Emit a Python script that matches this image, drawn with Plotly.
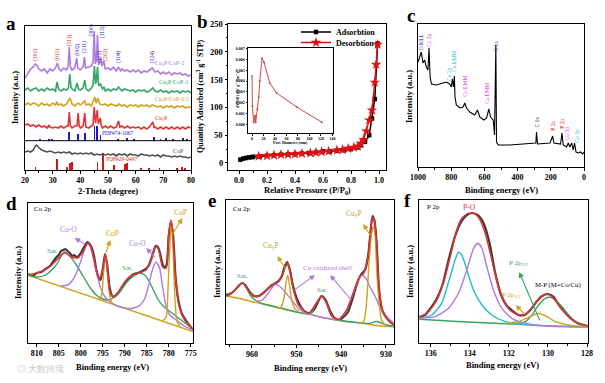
import plotly.graph_objects as go

W, H = 605, 383
SERIF = "Liberation Serif"

# ---------------- Panel a: XRD ----------------
xrd_cp2_x = [20,21,22,23,23.8,24.5,25,26,27,28,29,30,31,31.7,32.3,33,34,35,35.6,36.0,36.4,37,38,38.7,39.1,40,41,41.5,41.9,43,44,44.6,45.0,45.4,45.8,46.2,46.6,47.3,47.8,48.5,49,50,51,52,53,53.8,54.5,55,56,57,58,59,60,61,62,63,64,65,66,67,68,69,70,71,72,73,74,75,76,77,78,79,80]
xrd_cp2_y = [92,96,101,103,106,104,101,99,101,97,101,99,102,107,101,99,102,100,104,123,103,100,102,112,102,100,103,113,102,103,104,108,139,106,110,135,105,112,104,109,101,102,100,103,99,103,99,101,99,100,98,100,98,100,97,99,98,100,102,98,99,96,98,96,98,95,97,96,97,95,96,94,95]
xrd_cp1_x = [20,21,22,23,24,25,26,27,28,29,30,31,31.6,32.1,33,34,35,35.7,36.2,36.6,37,38,38.8,39.3,40,41,41.6,42.1,43,44,44.6,45.1,45.5,45.8,46.2,46.6,47.3,48,48.6,49,50,51,52,53,53.8,54.5,55,56,57,58,59,60,61,62,63,64,65,66.2,67,68,69,70,71,72,73,74,75,76,77,78,79,80]
xrd_cp1_y = [80,82,79,81,82,79,81,79,82,80,81,79,88,81,79,81,80,82,96,83,81,79,87,81,80,82,90,81,79,82,85,104,86,90,103,84,86,81,83,79,81,79,81,80,83,80,79,81,80,79,80,78,80,79,80,78,79,82,79,78,80,78,79,77,79,78,79,77,79,78,79,77,79]
xrd_cp05_x = [20,21,22,23,24,25,26,27,28,29,30,31,31.6,32,33,34,35,36.3,37,38,39.2,40,41.6,42,43,44,45.2,45.7,46.3,47,48,49,50,51,52,53,54,55,56,57,58,59,60,61,62,63,64,65,66,67,68,69,70,71,72,73,74,75,76,77,78,79,80]
xrd_cp05_y = [65,67,65,67,66,64,67,65,66,64,67,65,68,65,66,64,66,72,66,64,67,65,69,65,66,64,73,67,72,66,65,66,64,66,65,64,66,64,65,63,65,64,65,63,65,64,65,63,65,64,63,64,62,64,63,64,62,64,63,64,62,63,63]
xrd_cu3p_x = [20,21,22,23,24,25,26,27,28,28.7,29,30,31,32,33,34,35,35.6,36.0,36.4,37,38,38.8,39.2,39.6,40,41,41.6,42,43,44,44.6,45.0,45.5,46.1,46.5,47.2,47.6,48,49,50,51,52,53,53.8,54.3,55,56,57,58,59,60,61,62,63,64,65,66.2,66.7,67,68,69,70,71,72,73,74,75,76,77,78,79,80]
xrd_cu3p_y = [45,46,44,45,43,45,43,44,42,45,43,42,43,42,44,42,44,44,58,44,42,44,44,57,44,42,44,57,43,42,44,45,63,47,60,46,52,44,42,44,42,44,42,43,49,43,44,42,44,42,43,42,43,41,43,41,43,48,42,43,41,43,41,43,41,43,41,43,41,43,41,43,42]
xrd_cop_x = [20,21,22,23,23.7,24.2,24.8,25.5,26,27,28,29,30,31,32,33,34,35,36,37,38,39,40,41,42,43,44,45,46,47,48,49,50,51,52,53,54,55,56,57,58,59,60,61,62,63,64,65,66,67,68,69,70,71,72,73,74,75,76,77,78,79,80]
xrd_cop_y = [18,19,18,20,24,25,23,21,20,19,18,19,18,17,18,17,18,17,18,16,17,16,17,16,17,16,17,15,16,15,16,15,16,15,16,14,16,15,16,14,16,15,15,14,16,15,15,14,15,14,15,13,15,14,14,13,14,13,14,13,13,12,13]
stick_cop_pos = [23.8,31.6,35.3,36.3,36.9,46.2,48.1,52.3,56.0,56.8,62.0,64.7,68.6,75.0,76.6,77.8]
stick_cop_h = [3,11,3,7,8,8,17,5,6,7,2,2,2,2,3,2]
stick_cu3p_pos = [25.4,28.7,29.9,36.0,39.2,41.6,45.1,46.1,47.3,53.5,57.0,59.3,66.5,69.0,71.0,73.5,77.0,78.6]
stick_cu3p_h = [1.5,2,1.5,9,7,8,15,15,6,2,3,1.5,4,2,2.5,1.5,2.5,2]
stick_cu3p_base = 29.3
miller_text = ["(101)","(011)","(111)","(002)","(211)","(300)","(113)","(112)","(202)","(104)","(124)"]
miller_x = [23.6,31.5,36.0,38.7,41.3,43.7,47.9,46.7,48.9,53.5,66.0]
miller_y = [115,115,130,120,123,139,138,113,115,113,113]
miller_col = ["r","r","r","b","b","b","b","b","r","b","b"]

# ---------------- Panel b: BET ----------------
ads_x = [0.01,0.03,0.05,0.07,0.09,0.1,0.15,0.2,0.25,0.3,0.35,0.4,0.45,0.5,0.55,0.6,0.65,0.7,0.75,0.8,0.85,0.87,0.9,0.93,0.95,0.97,0.99]
ads_y = [6,8,9,10,10.5,11,12,13,14,15,15.5,16,17,18,19,21,21,22,23,25,28,32,38,50,80,115,215]
des_x = [0.99,0.98,0.97,0.95,0.93,0.91,0.89,0.87,0.85,0.82,0.78,0.74,0.7,0.64,0.59,0.55,0.51,0.45,0.4,0.35,0.3,0.25,0.2,0.14]
des_y = [213,177,145,95,77,57,42,35,30,28,26,24,23,21,20,19,18,17,16,15.5,15,14,13,12]
b_yticks = [0, 50, 100, 150, 200, 250]
pore_x = [0,0.7,3,5.3,6.4,9.4,11.7,13.5,17.5,21,31,42.7,77.7,121.4]
pore_y = [0.00445,0.0017,0.0002,0.0008,0.0002,0.0014,0.0025,0.004,0.0061,0.0057,0.0038,0.0029,0.0016,0.0002]

# ---------------- Panel c: XPS survey ----------------
surv_x = [1000,996,980,970,960,950,940,933.6,927,919,889,849,829,809,799,793,786,781,777,769,748,728,718,708,688,658,642,628,604,587,573,563,547,539,531,527,517,447,346,290,286,280,205,189,181,141,133,125,105,95,85,74,65,57,48,34,20,8,0]
surv_y = [105,107,115,104,107,100,97,119,90,83,82,84,85,83,80,88,80,91,70,62,59,60,64,59,55,52,57,50,47,49,58,50,47,32,122,25,22,22,23,24,35,23,24,31,24,23,34,22,20,24,20,24,17,24,15,14,15,13,15]
surv_lab = ["O KLL","Cu 2p","Co 2p","Co LMM","Cu LMM","Cu LMM","O 1s","C 1s","P 2s","P 2p","Cu 3p","Co 3p"]
surv_lab_x = [980,933,813,783,718,584,531,286,189,134,105,44]
surv_lab_y = [125,127,93,105,81,73,120,44,41,43,33,31]
surv_lab_c = ["#2b2bb8","#e030e0","#22b8c8","#22b8c8","#e030e0","#e030e0","#2b2bb8","#111111","#e02828","#e02828","#e030e0","#22b8c8"]

# ---------------- Panel d: Co 2p ----------------
d_bg_x = [812.2, 774.5]
d_bg_y = [68, 11.4]
d_sat_x = [812.2,810,808,806,805,804.5,803.7,802.5,801,799.5,798,796.5,795,794,792.7,791.5,790.5,789.5,788,786.7,785.5,784.5,783.5,782.5,781.5,780.5,779,777.5,776,774.5]
d_sat_y = [68,66,68,76,82,87,90,87,78,67,56,48,44,43,45,49,55,61,67,70,68,62,53,44,38,34,29,24,19,14]
d_coo_x = [804.5,803,802,801,800,799.2,798.4,797.6,797,796.3,795.5,794.5,793.5,792,790,788.2,786.5,785.5,784.8,784.2,783.6,782.9,782.1,781.4,780.6,779.8,778.3,776.5,774.5]
d_coo_y = [57,58,62,70,82,93,99.7,93,82,68,55,46,42,37.5,35,34.7,38,44,54,65,75,81,75,56,36,28,23,17,13]
d_cop1_x = [796,795.6,795.2,794.9,794.6,794.4,794.1,793.8,793.4,793,792.5]
d_cop1_y = [44,44,50,65,82,88,80,62,47,41,38.5]
d_cop2_x = [781.5,780.6,780.2,779.8,779.5,779.1,778.7,778.3,778,777.5]
d_cop2_y = [22,26,53,93,121,100,53,26,20,17]
d_tot_x = [812.2,810,807.1,804.8,803.7,802.2,800.7,799.5,798.4,797.7,796.5,795.8,795,794.4,793.9,793.3,792.3,791.2,789.7,788.2,786.7,785.2,784,783,782.3,781.4,780.6,780,779.5,779.1,778.5,777.6,776.4,774.5]
d_tot_y = [68,70,76,86,91,86,85,91,100,96,73,64,73,89,70,50,46,53,63,68,70,73,83,97,93,76,75,110,123,110,66,36,23,14]
d_raw_x = [812,811,810,809,808,807,806.5,806,805.5,805,804.5,804,803.5,803,802.5,802,801.5,801,800.5,800,799.5,799,798.5,798,797.5,797,796.5,796,795.5,795,794.5,794,793.5,793,792.5,792,791,790,789,788,787,786,785,784.5,784,783.5,783,782.5,782,781.5,781,780.5,780,779.5,779,778.5,778,777.5,777,776,775,774.5]
d_raw_y = [69,67,70,71,74,77,80,83,86,88,92,93,94,92,90,87,88,86,87,90,94,98,101,99,95,87,74,66,63,74,89,78,57,48,46,48,53,60,65,69,70,72,75,78,84,91,97,96,90,80,75,78,108,121,107,68,47,36,29,22,16,13]

# ---------------- Panel e: Cu 2p ----------------
e_bg_x = [965.8,963,960,956.3,953.3,950.3,947.3,944.4,941.4,938.4,936.2,933.9,931,928.2]
e_bg_y = [48,45.7,42.3,39,35.7,32.3,30,26.7,24,22.3,21.3,19.7,18,17.3]
e_sat_x = [965.8,965.2,964.1,963.1,962.2,961.3,960.4,959.3,957.8,955,952,949,947.5,946.6,945.6,944.4,943.3,942.5,941.4,939,936,933.9,932.1,930.2,928.2]
e_sat_y = [48,48.5,52,57.3,60.7,57.3,49,44,40.5,37.2,34,31,30,31.5,41,47.3,41,31,25,22.8,21.3,20.5,22.5,19.5,17.5]
e_shell_x = [959,957.8,956.3,954.8,953.7,952.6,951.1,949.6,948.1,946,943,940.6,938.8,937.3,936.2,935.4,934.5,933.6,932.4,931,929.5,928.2]
e_shell_y = [43,43.5,51,59.7,57.3,52.3,44,35.7,31.3,28.5,25.5,24.5,34,50.7,64,69,65.7,57.3,47.3,34,25.7,20.7]
e_cu3p1_x = [954.5,953.7,952.9,952.4,952,951.6,951.1,950.3,949.5]
e_cu3p1_y = [36.5,36,44,60.7,69,59,44,34.7,33]
e_cu3p2_x = [936,935,934.3,933.8,933.2,932.8,932.4,932.1,931.6,931,930.2]
e_cu3p2_y = [21.2,22.3,44,80.7,110.7,117.3,107.3,77.3,44,24,19]
e_tot_x = [965.8,964.1,962.2,960.4,958.9,957.4,956.3,954.9,953.7,952.6,952,951.4,950.7,949.6,947.3,945.6,944.4,943.3,942.2,940.6,938.8,937.1,936,935,934.1,933.4,933,932.6,932.1,931.6,930.6,929.5,928.2]
e_tot_y = [48,52.3,61.3,50.7,47.3,50.7,55.7,60.7,64.7,75.7,81.3,70.7,54,39,30.7,40.7,48,40.7,28,24.7,34,54,66.7,70.7,84,114,126.7,124,100.7,57.3,32.3,24,19]
e_raw_x = [965.8,965,964,963,962.2,961.5,960.5,959.5,958.5,957.5,956.5,955.5,954.7,954,953.3,952.7,952.1,951.5,950.8,950,949,948,947,946,945,944.4,943.5,942.5,941.5,940.5,939.5,938.5,937.5,936.5,935.5,934.7,934,933.4,933,932.6,932.1,931.6,931,930,929,928.2]
e_raw_y = [49,50,53,58,61,59,52,48,48,51,55,59,61,63,68,77,82,74,58,46,37,32,31,35,44,48,44,33,26,24,27,32,45,60,70,74,88,115,128,124,102,58,35,27,22,19]

# ---------------- Panel f: P 2p ----------------
f_mp_x = [136.58,134.4,132.7,131.68,131.16,130.82,130.48,130.14,129.88,129.62,129.28,128.94,128.51,127.95]
f_mp_y = [23.7,21.3,19.7,19,21.3,28,38,44.7,45.7,43,36.3,28,20.3,16.3]
f_cy_x = [136.58,135.95,135.44,135.01,134.75,134.58,134.41,134.15,133.81,133.38,132.87,132.19,130.99,127.95]
f_cy_y = [24.7,28,39.7,66.3,83,90.7,88,73,53,38,28,21.3,18,16.3]
f_pu_x = [136.58,135.78,135.09,134.58,134.15,133.81,133.59,133.38,133.13,132.79,132.36,131.85,131.16,130.14,127.95]
f_pu_y = [24.7,26.3,34.7,49.7,73,94.7,99.7,94.7,76.3,53,34.7,24.7,19.7,17,15.7]
f_go_x = [132.19,131.5,130.99,130.48,130.05,129.62,128.94,127.95]
f_go_y = [19.7,21.3,25.7,29.7,26.3,21.3,18,15.7]
f_tot_x = [136.58,136.12,135.69,135.26,134.92,134.67,134.41,134.07,133.73,133.47,133.21,132.87,132.53,132.19,131.85,131.42,131.08,130.65,130.31,130.05,129.79,129.45,129.11,128.6,127.95]
f_tot_y = [25.3,31.3,43,66.3,93,113,124.7,129.7,129,123,109.7,83,56.3,39.7,31.3,28,29.7,39.7,47,48.7,46.3,38,29.7,21.3,17]
f_raw_x = [136.58,136.3,136,135.7,135.4,135.1,134.8,134.5,134.2,133.9,133.6,133.3,133,132.7,132.4,132.1,131.8,131.5,131.2,130.9,130.6,130.3,130,129.7,129.4,129.1,128.8,128.5,128.2,127.95]
f_raw_y = [26,28,35,44,58,82,104,119,127,130,128,120,101,70,48,37,32,28,28,33,41,47,49,46,37,30,24,20,18,17]

# ---------------- colours ----------------
C_PUR = "#b07ade"
C_GRN = "#35a465"
C_GLD = "#d1a21c"
C_RED = "#e23434"
C_GRY = "#505050"
C_BLU = "#1a1ac8"
C_CYN = "#22bfc8"
C_RAW = "#3a3a3a"

fig = go.Figure()

def line(x, y, ax, color, width=1.4, shape="spline", **kw):
    fig.add_trace(go.Scatter(x=x, y=y, xaxis="x" + ax, yaxis="y" + ax, mode="lines",
                             line=dict(color=color, width=width, shape=shape, smoothing=0.6),
                             showlegend=False, hoverinfo="skip", **kw))

# panel a
for xs, ys, c in [(xrd_cp2_x, xrd_cp2_y, C_PUR), (xrd_cp1_x, xrd_cp1_y, C_GRN),
                  (xrd_cp05_x, xrd_cp05_y, C_GLD), (xrd_cu3p_x, xrd_cu3p_y, C_RED),
                  (xrd_cop_x, xrd_cop_y, C_GRY)]:
    line(xs, ys, "", c, width=1.6, shape="linear")
fig.add_trace(go.Bar(x=stick_cu3p_pos, y=stick_cu3p_h, base=stick_cu3p_base, width=0.3,
                     marker=dict(color=C_BLU, line=dict(width=0)), xaxis="x", yaxis="y",
                     showlegend=False, hoverinfo="skip"))
fig.add_trace(go.Bar(x=stick_cop_pos, y=stick_cop_h, base=0, width=0.3,
                     marker=dict(color="#d01818", line=dict(width=0)), xaxis="x", yaxis="y",
                     showlegend=False, hoverinfo="skip"))

# panel b
fig.add_trace(go.Scatter(x=ads_x, y=ads_y, xaxis="x2", yaxis="y2", mode="lines+markers",
                         name="Adsorbtion", legend="legend",
                         line=dict(color="black", width=1.5),
                         marker=dict(symbol="square", size=4.5, color="black")))
fig.add_trace(go.Scatter(x=des_x, y=des_y, xaxis="x2", yaxis="y2", mode="lines+markers",
                         name="Desorbtion", legend="legend2",
                         line=dict(color="#e01010", width=1.5),
                         marker=dict(symbol="star", size=8, color="#e01010")))
fig.add_trace(go.Scatter(x=pore_x, y=pore_y, xaxis="x7", yaxis="y7", mode="lines+markers",
                         line=dict(color="#d04848", width=1), marker=dict(size=2, color="#d04848"),
                         showlegend=False, hoverinfo="skip"))

# panel c
line(surv_x, surv_y, "3", "black", width=1.1, shape="linear")

# panel d
line(d_raw_x, d_raw_y, "4", C_RAW, width=2.2)
line(d_bg_x, d_bg_y, "4", C_GLD, width=1.4, shape="linear")
line(d_sat_x, d_sat_y, "4", C_GRN)
line(d_coo_x, d_coo_y, "4", C_PUR)
line(d_cop1_x, d_cop1_y, "4", C_GLD)
line(d_cop2_x, d_cop2_y, "4", C_GLD)
line(d_tot_x, d_tot_y, "4", C_RED, width=1.5)

# panel e
line(e_raw_x, e_raw_y, "5", C_RAW, width=2.2)
line(e_bg_x, e_bg_y, "5", C_GLD)
line(e_sat_x, e_sat_y, "5", C_GRN)
line(e_shell_x, e_shell_y, "5", C_PUR)
line(e_cu3p1_x, e_cu3p1_y, "5", C_GLD)
line(e_cu3p2_x, e_cu3p2_y, "5", C_GLD)
line(e_tot_x, e_tot_y, "5", C_RED, width=1.5)

# panel f
line(f_raw_x, f_raw_y, "6", C_RAW, width=2.2)
line(f_mp_x, f_mp_y, "6", C_GRN)
line(f_cy_x, f_cy_y, "6", C_CYN)
line(f_pu_x, f_pu_y, "6", C_PUR)
line(f_go_x, f_go_y, "6", C_GLD)
line(f_tot_x, f_tot_y, "6", C_RED, width=1.5)

# ---------------- axes ----------------
def dom_x(a, b):
    return [a / W, b / W]

def dom_y(top, bottom):
    return [1 - bottom / H, 1 - top / H]

TICK = 8

def xax(dom, rng, dtick, minor, anchor, tfsize=TICK, tlen=2.5, fmt=None):
    d = dict(domain=dom, range=rng, dtick=dtick, tick0=0, anchor=anchor,
             showline=True, linecolor="black", linewidth=1, mirror=True,
             ticks="outside", ticklen=tlen, tickwidth=1, tickcolor="black",
             showticklabels=True, ticklabeloverflow="allow",
             tickfont=dict(family=SERIF, size=tfsize, color="black", weight="bold"),
             showgrid=False, zeroline=False, automargin=False, fixedrange=True)
    if minor:
        d["minor"] = dict(dtick=minor, ticks="outside", ticklen=1.5, tickcolor="black")
    if fmt:
        d["tickformat"] = fmt
    return d

def yax(dom, rng, anchor, tickvals=None, dtick=None, minor=None, tfsize=TICK, tlen=2.5, fmt=None,
        labels=True):
    d = dict(domain=dom, range=rng, anchor=anchor, side="left",
             showline=True, linecolor="black", linewidth=1, mirror=True,
             tickfont=dict(family=SERIF, size=tfsize, color="black", weight="bold"),
             showgrid=False, zeroline=False, automargin=False, fixedrange=True)
    if tickvals is not None or dtick is not None:
        d.update(ticks="outside", ticklen=tlen, tickwidth=1, tickcolor="black",
                 showticklabels=labels, ticklabeloverflow="allow")
        if tickvals is not None:
            d.update(tickmode="array", tickvals=tickvals)
        else:
            d.update(dtick=dtick, tick0=0)
        if minor:
            d["minor"] = dict(dtick=minor, ticks="outside", ticklen=1.5, tickcolor="black")
    else:
        d.update(ticks="", showticklabels=False)
    if fmt:
        d["tickformat"] = fmt
    return d

fig.update_layout(
    xaxis=xax(dom_x(25, 191), [20, 80], 10, 5, "y"),
    yaxis=yax(dom_y(26, 170), [0, 144], "x"),
    xaxis2=xax(dom_x(228, 386), [-0.0786, 1.05], 0.2, 0.1, "y2", fmt=".1f"),
    yaxis2=yax(dom_y(24, 170), [-12.6, 250], "x2", tickvals=b_yticks, minor=25, labels=False),
    xaxis3=xax(dom_x(418, 584), [1000, 0], 200, 100, "y3"),
    yaxis3=yax(dom_y(24, 167), [0, 143], "x3"),
    xaxis4=xax(dom_x(28, 193), [812.0, 774.5], 5, None, "y4"),
    yaxis4=yax(dom_y(203, 343), [0, 140], "x4"),
    xaxis5=xax(dom_x(226, 394), [965.8, 928.2], 10, 5, "y5"),
    yaxis5=yax(dom_y(200, 344), [0, 144], "x5"),
    xaxis6=xax(dom_x(419, 588), [136.6, 127.95], 2, 1, "y6"),
    yaxis6=yax(dom_y(200, 343), [0, 143], "x6"),
    xaxis7=xax(dom_x(248, 333), [-7, 141], 20, None, "y7", tfsize=4, tlen=1.5),
    yaxis7=yax(dom_y(48, 133), [-0.0008, 0.00705], "x7", dtick=0.001, tfsize=4, tlen=1.5, fmt=".3f"),
)

fig.update_layout(
    width=W, height=H, margin=dict(l=0, r=0, t=0, b=0),
    paper_bgcolor="white", plot_bgcolor="rgba(0,0,0,0)",
    bargap=0, barmode="overlay",
    legend=dict(x=296 / W, y=1 - 32 / H, xanchor="left", yanchor="middle", itemwidth=30,
                font=dict(family=SERIF, size=8, color="black", weight="bold"), bgcolor="rgba(0,0,0,0)"),
    legend2=dict(x=296 / W, y=1 - 42.5 / H, xanchor="left", yanchor="middle", itemwidth=30,
                 font=dict(family=SERIF, size=8, color="black", weight="bold"), bgcolor="rgba(0,0,0,0)"),
)

anns = []

def T(text, x, y, xref="paper", yref="paper", color="black", size=8.5, angle=0, xanchor="center",
      yanchor="middle", bold=True):
    if xref == "paper":
        x = x / W
    if yref == "paper":
        y = 1 - y / H
    anns.append(dict(text=text, x=x, y=y, xref=xref, yref=yref, showarrow=False, textangle=angle,
                     xanchor=xanchor, yanchor=yanchor,
                     font=dict(family=SERIF, size=size, color=color, weight="bold" if bold else "normal")))

def A(hx, hy, tx, ty, ax, color):
    anns.append(dict(text="", x=hx, y=hy, ax=tx, ay=ty, xref="x" + ax, yref="y" + ax,
                     axref="x" + ax, ayref="y" + ax, showarrow=True, arrowhead=2, arrowsize=1,
                     arrowwidth=1.1, arrowcolor=color))

# panel b y tick labels, placed on the y2 scale
for v in b_yticks:
    anns.append(dict(text=str(v), x=(228 - 3.5) / W, y=v, xref="paper", yref="y2", showarrow=False,
                     xanchor="right", yanchor="middle",
                     font=dict(family=SERIF, size=8.5, color="black", weight="bold")))

# panel letters
for t, x, y in [("a", 11, 24), ("b", 202, 22), ("c", 411, 16), ("d", 11, 203), ("e", 212, 201), ("f", 408, 200)]:
    T(t, x, y, size=19)

# axis titles
T("2-Theta (degree)", 108, 191)
T("Intensity (a.u.)", 15, 98, angle=-90)
T("Relative Pressure (P/P<sub>0</sub>)", 308, 191)
T("Quantity Adsorbed (cm<sup>3</sup> g<sup>-1</sup> STP)", 200, 96, angle=-90, size=8)
T("Binding energy (eV)", 501, 190)
T("Intensity (a.u.)", 409, 97, angle=-90)
T("Binding energy (eV)", 112, 367)
T("Intensity (a.u.)", 18, 273, angle=-90)
T("Binding energy (eV)", 310, 368)
T("Intensity (a.u.)", 217, 272, angle=-90)
T("Binding energy (eV)", 502, 365)
T("Intensity (a.u.)", 410, 272, angle=-90)

# inset titles
T("Pore Diameter (nm)", 290, 142, size=4)
T("dV/dD (cm<sup>3</sup> g<sup>-1</sup> nm<sup>-1</sup>)", 237, 90, angle=-90, size=4)

# panel a labels
for t, x, y, c in zip(miller_text, miller_x, miller_y, miller_col):
    T(t, x, y, "x", "y", color="#e02020" if c == "r" else C_BLU, size=5.6, angle=-90, bold=False)
T("Cu<sub>3</sub>P/CoP-2", 72.4, 107, "x", "y", color=C_PUR, size=6, bold=False)
T("Cu<sub>3</sub>P/CoP-1", 73.6, 88, "x", "y", color=C_GRN, size=6, bold=False)
T("Cu<sub>3</sub>P/CoP-0.5", 73.2, 71, "x", "y", color=C_GLD, size=6, bold=False)
T("Cu<sub>3</sub>P", 69.5, 52, "x", "y", color=C_RED, size=6, bold=False)
T("PDF#74-1067", 53.6, 37, "x", "y", color=C_BLU, size=5.5, bold=False)
T("CoP", 75.3, 19.5, "x", "y", color=C_GRY, size=6, bold=False)
T("PDF#29-0497", 55, 11, "x", "y", color="#e02020", size=5.5, bold=False)

# panel c labels
for t, x, y, c in zip(surv_lab, surv_lab_x, surv_lab_y, surv_lab_c):
    T(t, x, y, "x3", "y3", color=c, size=5.6, angle=-90, bold=False)

# panel d labels
T("Co 2p", 811.2, 134, "x4", "y4", size=7, xanchor="left", bold=False)
T("Co-O", 802.8, 114, "x4", "y4", color=C_PUR, size=7.5, bold=False)
T("CoP", 792.8, 110, "x4", "y4", color=C_GLD, size=7.5, bold=False)
T("Co-O", 787.1, 100, "x4", "y4", color=C_PUR, size=7.5, bold=False)
T("CoP", 777.4, 131, "x4", "y4", color=C_GLD, size=7.5, bold=False)
T("Sat.", 806.4, 92, "x4", "y4", color=C_GRN, size=7, bold=False)
T("Sat.", 789.4, 75, "x4", "y4", color=C_GRN, size=7, bold=False)
A(801.4, 105, 798.7, 98, "4", C_PUR)
A(793.3, 103, 794.4, 89, "4", C_GLD)
A(785.1, 95, 782.8, 84, "4", C_PUR)
A(776.9, 125, 779.4, 107, "4", C_GLD)

# panel e labels
T("Cu 2p", 964.6, 135, "x5", "y5", size=7, xanchor="left", bold=False)
T("Cu<sub>3</sub>P", 937.2, 130, "x5", "y5", color=C_GLD, size=7.5, bold=False)
T("Cu<sub>3</sub>P", 955.7, 98, "x5", "y5", color=C_GLD, size=7.5, bold=False)
T("Sat.", 962.2, 68, "x5", "y5", color=C_GRN, size=7, bold=False)
T("Sat.", 944.3, 54, "x5", "y5", color=C_GRN, size=7, bold=False)
T("Cu oxidized shell", 943, 76, "x5", "y5", color=C_PUR, size=7, bold=False)
A(935.1, 120, 933.1, 106, "5", C_GLD)
A(954.3, 88, 952.3, 74, "5", C_GLD)
A(945.9, 69, 950.8, 53, "5", C_PUR)
A(942.5, 69, 937.6, 43, "5", C_PUR)

# panel f labels
T("P 2p", 136.3, 136, "x6", "y6", size=7, xanchor="left", bold=False)
T("P-O", 134.03, 136, "x6", "y6", color=C_RED, size=7.5, bold=False)
T("P 2p<sub>3/2</sub>", 131.5, 80, "x6", "y6", color=C_GRN, size=7, bold=False)
T("M-P (M=Co/Cu)", 129.5, 58, "x6", "y6", size=6.8, bold=False)
T("P 2p<sub>1/2</sub>", 131.85, 48, "x6", "y6", color=C_GLD, size=7, bold=False)
A(131.47, 71, 130.39, 21, "6", C_GRN)
A(131.64, 38, 131.16, 28, "6", C_GLD)

# watermark
T("◎ 大数跨境", 40, 369, color="#c8c8c8", size=9, bold=False)

fig.update_layout(annotations=anns)

fig.add_shape(type="line", xref="x", yref="y", x0=20, x1=80, y0=stick_cu3p_base, y1=stick_cu3p_base,
              line=dict(color="black", width=1))

# remove the default page margin so the figure sits at the window's top-left corner
fig.write_html("out.html", config={"displayModeBar": False},
               post_script="document.body.style.margin='0px';document.body.style.overflow='hidden';")
